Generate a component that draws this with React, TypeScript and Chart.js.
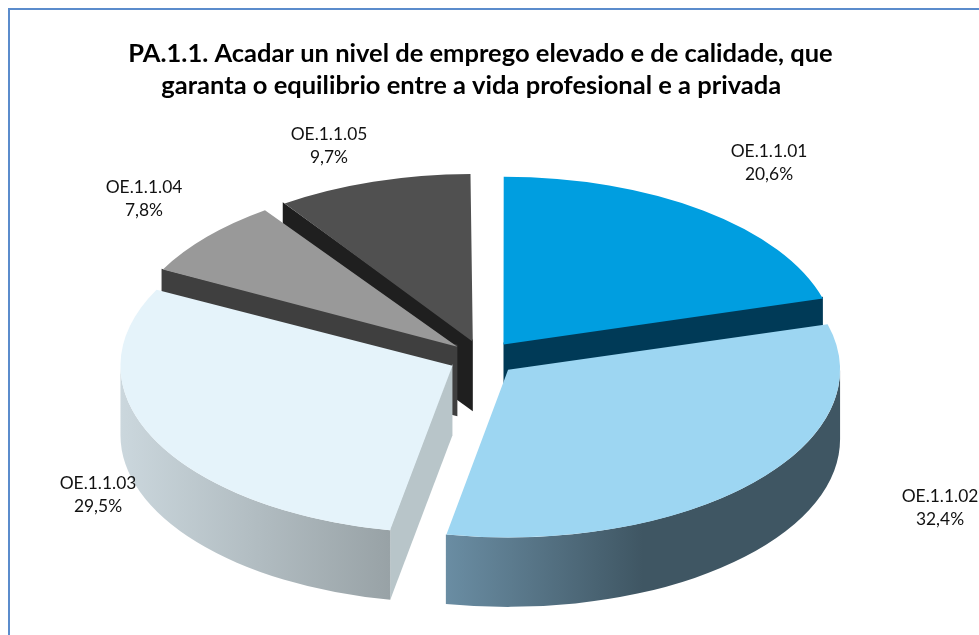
import React, { useEffect, useRef } from "react";
import { Chart, registerables } from "chart.js";

Chart.register(...registerables);

const categories = ["OE.1.1.01", "OE.1.1.02", "OE.1.1.03", "OE.1.1.04", "OE.1.1.05"];
const shares = [20.6, 32.4, 29.5, 7.8, 9.7];
const titleLines = [
  "PA.1.1. Acadar un nivel de emprego elevado e de calidade, que",
  "garanta o equilibrio entre a vida profesional e a privada   ",
];

const topColors = ["#009ee0", "#9dd6f2", "#e5f3fa", "#999999", "#505050"];
const faceColors = ["#003a57", "#3f5663", "#b8c5c9", "#3f3f3f", "#1f1f1f"];
const outerStops: [number, string][][] = [
  [[0, "#003a57"], [1, "#003a57"]],
  [[0, "#6a8da3"], [0.5, "#3f5663"], [1, "#3f5663"]],
  [[0, "#cbd7dd"], [1, "#98a2a6"]],
  [[0, "#3f3f3f"], [1, "#3f3f3f"]],
  [[0, "#1f1f1f"], [1, "#1f1f1f"]],
];
// centre of each two-line data label, on the page
const labelCentres = [
  [769, 163],
  [940, 508],
  [98, 495],
  [144, 199],
  [329, 146],
];

const FONT = "Lato, Carlito, sans-serif";
const SQUASH = 0.505;
const DEPTH = 69.5;
const RADIUS = 332;
const EXPLODE = 136; // Chart.js moves an arc by offset / 4
const SHIFT_X = 2.5;
const TUCK = 2; // walls run this far under their top face, to leave no seam

// Chart.js also grows an offset arc's radius; this is that growth.
const radiusGrowth = (arc: any) =>
  (arc.options.offset / 4) * (1 - Math.sin(Math.min(Math.PI, arc.endAngle - arc.startAngle)));

const pie3d = {
  id: "pie3d",
  beforeDraw(chart: any) {
    const { ctx, width, height } = chart;
    ctx.save();
    ctx.fillStyle = "#ffffff";
    ctx.fillRect(0, 0, width, height);
    ctx.strokeStyle = "#5b8ccc";
    ctx.lineWidth = 2;
    ctx.beginPath();
    ctx.moveTo(9, height);
    ctx.lineTo(9, 9);
    ctx.lineTo(width, 9);
    ctx.stroke();
    ctx.restore();
  },
  afterDatasetsUpdate(chart: any) {
    for (const arc of chart.getDatasetMeta(0).data) {
      arc.outerRadius = RADIUS - radiusGrowth(arc);
    }
  },
  beforeDatasetsDraw(chart: any) {
    const { ctx } = chart;
    const arcs = chart.getDatasetMeta(0).data;
    const cy = arcs[0].y;
    const order = arcs
      .map((arc: any, i: number) => ({ arc, i, mid: (arc.startAngle + arc.endAngle) / 2 }))
      .sort((a: any, b: any) => Math.sin(a.mid) - Math.sin(b.mid));

    for (const { arc, i, mid } of order) {
      const shift = arc.options.offset / 4;
      const x = arc.x + SHIFT_X + Math.cos(mid) * shift;
      const y = cy + Math.sin(mid) * shift * SQUASH;
      const r = arc.outerRadius + radiusGrowth(arc);
      const ry = r * SQUASH;

      // radial cut faces, when they turn toward the viewer
      const faces: [number, number][] = [
        [arc.startAngle, -1],
        [arc.endAngle, 1],
      ];
      ctx.fillStyle = faceColors[i];
      for (const [angle, side] of faces) {
        if (Math.sin(angle + (side * Math.PI) / 2) <= 0) continue;
        const ex = x + Math.cos(angle) * r;
        const ey = y + Math.sin(angle) * ry;
        ctx.beginPath();
        ctx.moveTo(x, y - TUCK);
        ctx.lineTo(ex, ey - TUCK);
        ctx.lineTo(ex, ey + DEPTH);
        ctx.lineTo(x, y + DEPTH);
        ctx.closePath();
        ctx.fill();
      }

      // rim, only in the lower half of the ellipse
      const a0 = Math.max(arc.startAngle, 0);
      const a1 = Math.min(arc.endAngle, Math.PI);
      if (a1 > a0) {
        const xs = [a0, a1].map((a) => x + Math.cos(a) * r);
        const g = ctx.createLinearGradient(Math.min(...xs), 0, Math.max(...xs), 0);
        for (const [p, c] of outerStops[i]) g.addColorStop(p, c);
        ctx.fillStyle = g;
        ctx.beginPath();
        ctx.ellipse(x, y, r, ry, 0, a0, a1);
        ctx.ellipse(x, y + DEPTH, r, ry, 0, a1, a0, true);
        ctx.closePath();
        ctx.fill();
      }
    }

    ctx.save();
    ctx.translate(SHIFT_X, cy);
    ctx.scale(1, SQUASH);
    ctx.translate(0, -cy);
  },
  afterDatasetsDraw(chart: any) {
    chart.ctx.restore();
  },
  afterDraw(chart: any) {
    const { ctx } = chart;
    ctx.save();
    ctx.font = `17.4px ${FONT}`;
    ctx.fillStyle = "#111111";
    ctx.textAlign = "center";
    ctx.textBaseline = "middle";
    categories.forEach((name, i) => {
      const [x, y] = labelCentres[i];
      ctx.fillText(name, x, y - 11.5);
      ctx.fillText(`${shares[i].toFixed(1).replace(".", ",")}%`, x, y + 11.5);
    });
    ctx.restore();
  },
};

export default function App() {
  const ref = useRef<HTMLCanvasElement>(null);
  useEffect(() => {
    const chart = new Chart(ref.current as HTMLCanvasElement, {
      type: "pie",
      data: {
        labels: categories,
        datasets: [
          {
            data: shares,
            backgroundColor: topColors,
            borderWidth: 0,
            offset: EXPLODE,
            hoverOffset: EXPLODE,
            clip: false,
          } as any,
        ],
      },
      options: {
        responsive: false,
        animation: false,
        radius: RADIUS,
        layout: { padding: { left: 0, right: 18, top: 38, bottom: 20 } },
        events: [],
        plugins: {
          legend: { display: false },
          tooltip: { enabled: false },
          title: {
            display: true,
            text: titleLines,
            color: "#000000",
            font: { family: FONT, size: 25.5, weight: "bold", lineHeight: 1.24 },
            padding: { top: 0, bottom: 0 },
          },
        },
      } as any,
      plugins: [pie3d],
    });
    return () => chart.destroy();
  }, []);
  return (
    <div style={{ position: "fixed", left: 0, top: 0 }}>
      <canvas ref={ref} width={979} height={635} style={{ display: "block" }} />
    </div>
  );
}
